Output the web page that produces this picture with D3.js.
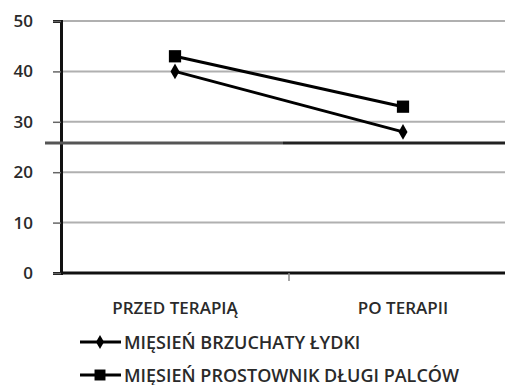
<!DOCTYPE html>
<html>
<head>
<meta charset="utf-8">
<script src="https://cdn.jsdelivr.net/npm/d3@7"></script>
<style>
  html, body { margin: 0; padding: 0; background: #fff; }
  svg { display: block; }
  text { font-family: "Open Sans", Lato, sans-serif; fill: #2a2a2a; font-weight: 600; }
</style>
</head>
<body>
<svg id="chart" width="505" height="385"></svg>
<script>
const categories = ["PRZED TERAPIĄ", "PO TERAPII"];
const seriesNames = ["MIĘSIEŃ BRZUCHATY ŁYDKI", "MIĘSIEŃ PROSTOWNIK DŁUGI PALCÓW"];
const brzuchaty = [40, 28];
const prostownik = [43, 33];
const yTicks = [0, 10, 20, 30, 40, 50];
const referenceLevel = 25.8;

const svg = d3.select("#chart");
const plot = { left: 61, right: 517, top: 21, bottom: 273 };

const x = d3.scaleBand().domain(categories).range([plot.left, plot.right]);
const y = d3.scaleLinear().domain([0, 50]).range([plot.bottom, plot.top]);
const cx = d => x(d) + x.bandwidth() / 2;

// horizontal gridlines
svg.append("g").selectAll("line").data(yTicks.filter(t => t > 0)).join("line")
  .attr("x1", plot.left).attr("x2", 505)
  .attr("y1", d => y(d)).attr("y2", d => y(d))
  .attr("stroke", "#b0b0b0").attr("stroke-width", 2);

// y axis with ticks
const yAxis = d3.axisLeft(y).tickValues(yTicks).tickSize(8).tickPadding(20);
const gy = svg.append("g").attr("transform", `translate(${plot.left},0)`).call(yAxis);
gy.select(".domain").attr("stroke", "#111").attr("stroke-width", 3);
gy.selectAll(".tick line").attr("stroke", "#666").attr("stroke-width", 1.5);
gy.selectAll(".tick text").attr("font-size", 17).attr("fill", "#333")
  .style("font-family", "'Open Sans', Lato, sans-serif").style("font-weight", 600);

// x axis baseline with category boundary ticks
svg.append("line").attr("x1", plot.left).attr("x2", 505)
  .attr("y1", y(0)).attr("y2", y(0)).attr("stroke", "#111").attr("stroke-width", 3);
svg.append("g").selectAll("line").data([x(categories[1])]).join("line")
  .attr("x1", d => d).attr("x2", d => d)
  .attr("y1", y(0)).attr("y2", y(0) + 8).attr("stroke", "#888").attr("stroke-width", 1.5);

// reference level line
const refY = y(referenceLevel);
svg.append("line").attr("x1", 45).attr("x2", 283).attr("y1", refY).attr("y2", refY)
  .attr("stroke", "#555").attr("stroke-width", 3);
svg.append("line").attr("x1", 283).attr("x2", 505).attr("y1", refY).attr("y2", refY)
  .attr("stroke", "#222").attr("stroke-width", 3);

// category labels
svg.append("g").selectAll("text").data(categories).join("text")
  .attr("x", d => cx(d)).attr("y", 314).attr("text-anchor", "middle")
  .attr("font-size", 17).text(d => d);

const series = [
  { name: seriesNames[0], values: brzuchaty, symbol: d3.symbolDiamond, size: 70 },
  { name: seriesNames[1], values: prostownik, symbol: d3.symbolSquare, size: 150 }
];

const line = d3.line().x((d, i) => cx(categories[i])).y(d => y(d));

series.forEach(s => {
  svg.append("path").datum(s.values).attr("d", line)
    .attr("fill", "none").attr("stroke", "#000").attr("stroke-width", 3);
  svg.append("g").selectAll("path").data(s.values).join("path")
    .attr("d", d3.symbol().type(s.symbol).size(s.size))
    .attr("transform", (d, i) => `translate(${cx(categories[i])},${y(d)})`)
    .attr("fill", "#000");
});

// legend
const legend = svg.append("g");
series.forEach((s, i) => {
  const ly = 342 + i * 33;
  legend.append("line").attr("x1", 80).attr("x2", 121).attr("y1", ly).attr("y2", ly)
    .attr("stroke", "#000").attr("stroke-width", 3);
  legend.append("path").attr("d", d3.symbol().type(s.symbol).size(s.size * 0.8))
    .attr("transform", `translate(100,${ly})`).attr("fill", "#000");
  legend.append("text").attr("x", 124).attr("y", ly + 6.5).attr("font-size", 18)
    .text(s.name);
});
</script>
</body>
</html>
